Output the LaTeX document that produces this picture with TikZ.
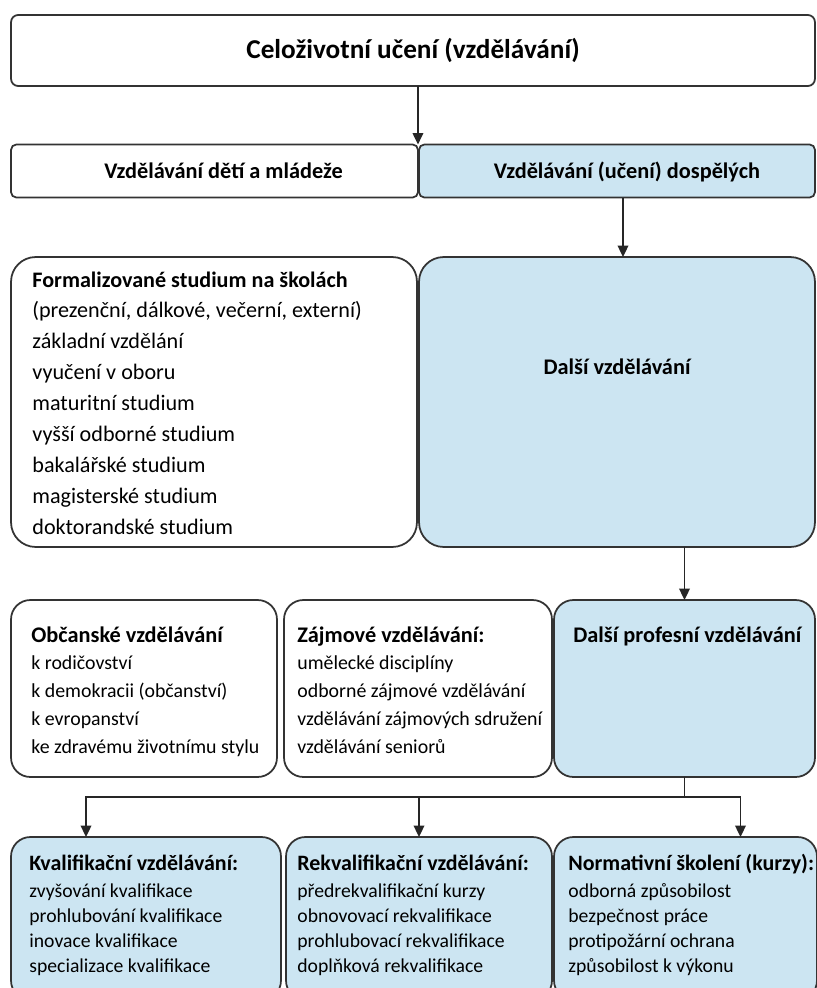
\documentclass[tikz,border=0pt]{standalone}
\usepackage{fontspec}
\setmainfont{Carlito}
\usetikzlibrary{arrows.meta,calc,positioning}

\definecolor{paleblue}{RGB}{204,229,242}
\newcommand{\boxhead}[2][12.7]{\mbox{\fontsize{#1}{#1}\selectfont\bfseries #2}}

\begin{document}
\begin{tikzpicture}[>={Triangle[length=6.5pt,width=6pt]}]
  % Box and text styles
  \tikzset{
    box/.style      = {draw=black!80, line width=1pt, fill=white, inner sep=0pt, outer sep=0pt},
    bluebox/.style  = {box, fill=paleblue},
    listtext/.style = {align=left, text width=7.5cm, inner sep=0pt, anchor=base west,
                       execute at begin node={\spaceskip=0pt\xspaceskip=0pt}},
    link/.style     = {draw=black!85, line width=1pt},
    rowtwo/.style   = {text height=2.2ex, text depth=0.45ex, font=\fontsize{12.7}{15}\selectfont\bfseries},
    rowthree/.style = {font=\fontsize{12.6}{17.6}\selectfont},
    rowfour/.style  = {font=\fontsize{11.3}{15.8}\selectfont},
    rowfive/.style  = {font=\fontsize{11.2}{14.2}\selectfont}
  }

  % 1 unit = 1 pixel of the original chart, y going down
  \begin{scope}[x=0.02cm, y=-0.02cm]
    \useasboundingbox (0,0) rectangle (817,988);
    \fill[white] (0,0) rectangle (817,988);
    \clip (0,0) rectangle (817,988);

    % --- Top: lifelong learning ---
    \node[box, rounded corners=4pt, minimum width=16.08cm, minimum height=1.42cm,
          text height=2.4ex, text depth=0.55ex,
          font=\fontsize{15.5}{18}\selectfont\bfseries] (lifelong) at (413,50.5)
          {Celoživotní učení (vzdělávání)};

    % --- Row 2: children / adults ---
    \node[box, rowtwo, rounded corners=3pt, minimum width=8.14cm, minimum height=1.06cm]
          (youth) at (214.5,171) {\hspace*{0.36cm}Vzdělávání dětí a mládeže};
    \node[bluebox, rowtwo, rounded corners=3pt, minimum width=7.92cm, minimum height=1.06cm]
          (adults) at (617,171) {\hspace*{0.4cm}Vzdělávání (učení) dospělých};

    % --- Row 3: formal study / further education ---
    \node[box, rounded corners=14pt, minimum width=8.12cm, minimum height=5.8cm] (formal) at (214,402) {};
    \node[listtext, rowthree] (formaltxt) at ($(formal.north west)+(21,30)$)
          {\boxhead[12.6]{Formalizované studium na školách}\\
           (prezenční, dálkové, večerní, externí)\\
           základní vzdělání\\
           vyučení v oboru\\
           maturitní studium\\
           vyšší odborné studium\\
           bakalářské studium\\
           magisterské studium\\
           doktorandské studium};
    \node[bluebox, rounded corners=14pt, minimum width=7.92cm, minimum height=5.8cm] (further) at (617,402) {};
    \node[font=\fontsize{12.7}{15}\selectfont\bfseries, inner sep=0pt] (furthertxt)
          at ($(further.north)+(0,110)$) {Další vzdělávání};

    % --- Row 4: civic / hobby / further professional ---
    \node[box, rounded corners=11pt, minimum width=5.32cm, minimum height=3.54cm] (civic) at (144,688.5) {};
    \node[bluebox, rounded corners=11pt, minimum width=5.22cm, minimum height=3.54cm] (profess) at (684.5,688.5) {};
    \node[box, rounded corners=11pt, minimum width=5.36cm, minimum height=3.54cm] (hobby) at (418,688.5) {};
    \node[listtext, rowfour] (civictxt) at ($(civic.north west)+(20,42)$)
          {\boxhead{Občanské vzdělávání}\\
           k rodičovství\\
           k demokracii (občanství)\\
           k evropanství\\
           ke zdravému životnímu stylu};
    \node[listtext, rowfour] (hobbytxt) at ($(hobby.north west)+(13,42)$)
          {\boxhead{Zájmové vzdělávání:}\\
           umělecké disciplíny\\
           odborné zájmové vzdělávání\\
           vzdělávání zájmových sdružení\\
           vzdělávání seniorů};
    \node[listtext, rowfour] (professtxt) at ($(profess.north west)+(19,42)$)
          {\boxhead{Další profesní vzdělávání}};

    % --- Row 5: kinds of further professional education ---
    \node[bluebox, rounded corners=11pt, minimum width=5.4cm, minimum height=3.26cm] (qual) at (146,918.5) {};
    \node[bluebox, rounded corners=11pt, minimum width=5.32cm, minimum height=3.26cm] (requal) at (419,918.5) {};
    \node[bluebox, rounded corners=11pt, minimum width=5.26cm, minimum height=3.26cm] (norm) at (685.5,918.5) {};
    \node[listtext, rowfive] (qualtxt) at ($(qual.north west)+(18,33)$)
          {\boxhead[12.5]{Kvalifikační vzdělávání:}\\[1.5pt]
           zvyšování kvalifikace\\
           prohlubování kvalifikace\\
           inovace kvalifikace\\
           specializace kvalifikace};
    \node[listtext, rowfive] (requaltxt) at ($(requal.north west)+(11,33)$)
          {\boxhead[12.5]{Rekvalifikační vzdělávání:}\\[1.5pt]
           předrekvalifikační kurzy\\
           obnovovací rekvalifikace\\
           prohlubovací rekvalifikace\\
           doplňková rekvalifikace};
    \node[listtext, rowfive] (normtxt) at ($(norm.north west)+(14,33)$)
          {\boxhead[12.5]{Normativní školení (kurzy):}\\[1.5pt]
           odborná způsobilost\\
           bezpečnost práce\\
           protipožární ochrana\\
           způsobilost k výkonu};

    % --- Arrows ---
    \draw[link, ->] (lifelong.south -| youth.east) -- (youth.north east);
    \draw[link, ->] ([xshift=0.12cm]adults.south) -- ([xshift=0.12cm]further.north);
    \draw[link, ->] (further.south -| profess.north) -- (profess.north);

    % branch from further professional education
    \coordinate (bus) at ($(profess.south)+(0,20)$);
    \draw[link] (profess.south) -- (bus);
    \draw[link, ->] (bus) -| ([xshift=-1.2cm]qual.north);
    \draw[link, ->] (bus) -| ([xshift=1.1cm]norm.north);
    \draw[link, ->] (bus -| requal.north) -- (requal.north);
  \end{scope}
\end{tikzpicture}
\end{document}
